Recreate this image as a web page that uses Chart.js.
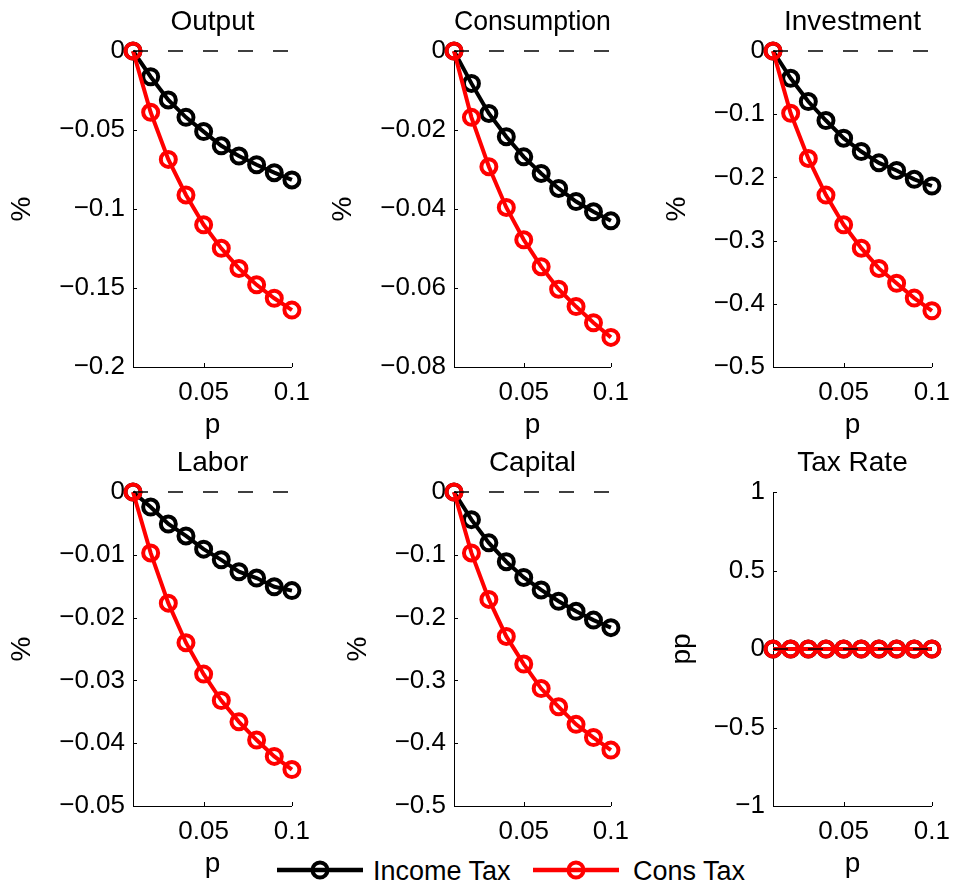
<!DOCTYPE html>
<html>
<head>
<meta charset="utf-8">
<script src="https://cdn.jsdelivr.net/npm/chart.js@4"></script>
<style>
  body { margin: 0; background: #fff; width: 960px; height: 890px; position: relative; overflow: hidden; }
  .panel { position: absolute; }
  #legend { position: absolute; left: 268px; top: 852px; width: 500px; height: 38px; background: #fff; z-index: 5;
            font-family: "Liberation Sans", Arial, sans-serif; font-size: 27px; color: #000; }
  #legend span { position: absolute; top: 3px; line-height: 32px; white-space: nowrap; }
  #legend svg { position: absolute; left: 0; top: 0; }
</style>
</head>
<body>
<div id="legend">
  <svg width="500" height="38">
    <line x1="9" y1="18" x2="95" y2="18" stroke="#000" stroke-width="4.5"/>
    <circle cx="52" cy="18" r="7.5" fill="none" stroke="#000" stroke-width="4"/>
    <line x1="265" y1="18" x2="351" y2="18" stroke="#f00" stroke-width="4.5"/>
    <circle cx="308" cy="18" r="7.5" fill="none" stroke="#f00" stroke-width="4"/>
  </svg>
  <span style="left:105px">Income Tax</span>
  <span style="left:365px">Cons Tax</span>
</div>
<script>
const p = [0.01, 0.02, 0.03, 0.04, 0.05, 0.06, 0.07, 0.08, 0.09, 0.1];
const xTicks = [0.05, 0.1];

const outputIncome = [0, -0.0163, -0.031, -0.042, -0.051, -0.060, -0.0665, -0.072, -0.077, -0.0816];
const outputCons   = [0, -0.0388, -0.0686, -0.0911, -0.110, -0.1249, -0.1376, -0.148, -0.1565, -0.164];
const consIncome   = [0, -0.0082, -0.0158, -0.0217, -0.0268, -0.031, -0.0348, -0.0381, -0.0407, -0.043];
const consCons     = [0, -0.0168, -0.0293, -0.0396, -0.0478, -0.0546, -0.0603, -0.0647, -0.0688, -0.0725];
const invIncome    = [0, -0.0432, -0.080, -0.110, -0.138, -0.159, -0.177, -0.189, -0.203, -0.2136];
const invCons      = [0, -0.0986, -0.170, -0.228, -0.275, -0.312, -0.344, -0.3676, -0.391, -0.411];
const laborIncome  = [0, -0.0024, -0.0051, -0.0070, -0.0091, -0.0108, -0.0127, -0.0137, -0.0151, -0.0157];
const laborCons    = [0, -0.0097, -0.0177, -0.024, -0.029, -0.0332, -0.0366, -0.0395, -0.0421, -0.0442];
const capIncome    = [0, -0.044, -0.081, -0.111, -0.136, -0.156, -0.174, -0.190, -0.204, -0.216];
const capCons      = [0, -0.097, -0.171, -0.230, -0.274, -0.313, -0.342, -0.370, -0.391, -0.411];
const taxIncome    = [0, 0, 0, 0, 0, 0, 0, 0, 0, 0];
const taxCons      = [0, 0, 0, 0, 0, 0, 0, 0, 0, 0];
const zeroLine     = [0, 0, 0, 0, 0, 0, 0, 0, 0, 0];

const panels = [
  { title: 'Output',      ylabel: '%',  income: outputIncome, cons: outputCons, min: -0.2,  max: 0, step: 0.05, row: 0, col: 0, labOff: 111 },
  { title: 'Consumption', ylabel: '%',  income: consIncome,   cons: consCons,   min: -0.08, max: 0, step: 0.02, row: 0, col: 1, labOff: 111 },
  { title: 'Investment',  ylabel: '%',  income: invIncome,    cons: invCons,    min: -0.5,  max: 0, step: 0.1,  row: 0, col: 2, labOff: 96 },
  { title: 'Labor',       ylabel: '%',  income: laborIncome,  cons: laborCons,  min: -0.05, max: 0, step: 0.01, row: 1, col: 0, labOff: 111 },
  { title: 'Capital',     ylabel: '%',  income: capIncome,    cons: capCons,    min: -0.5,  max: 0, step: 0.1,  row: 1, col: 1, labOff: 96 },
  { title: 'Tax Rate',    ylabel: 'pp', income: taxIncome,    cons: taxCons,    min: -1,    max: 1, step: 0.5,  row: 1, col: 2, labOff: 91 }
];

// page geometry
const axLeft = [133, 454, 773], axW = [165, 163, 165];
const rowTop = [0, 441], rowH = [450, 449], plotH = [316, 314];
const YAXW = 133, TOPH = 51, PADR = 22;
const FONT = '"Liberation Sans", Arial, sans-serif';
const TICK_PX = 26, LABEL_PX = 28, HALF_LH = LABEL_PX * 1.2 / 2;

const fmt = v => String(parseFloat(v.toFixed(6))).replace('-', '\u2212');
const toXY = ys => ys.map((y, i) => ({ x: p[i], y: y }));

// MATLAB-like inward tick marks
const inwardTicks = {
  id: 'inwardTicks',
  afterDraw(chart) {
    const { ctx, chartArea } = chart;
    const xs = chart.scales.x, ys = chart.scales.y;
    ctx.save();
    ctx.strokeStyle = '#000';
    ctx.lineWidth = 1;
    ctx.beginPath();
    xs.ticks.forEach(t => {
      const px = Math.round(xs.getPixelForValue(t.value)) + 0.5;
      ctx.moveTo(px, chartArea.bottom);
      ctx.lineTo(px, chartArea.bottom - 4);
    });
    ys.ticks.forEach(t => {
      const py = Math.round(ys.getPixelForValue(t.value)) + 0.5;
      ctx.moveTo(chartArea.left, py);
      ctx.lineTo(chartArea.left + 4, py);
    });
    ctx.stroke();
    ctx.restore();
  }
};

Chart.defaults.font.family = FONT;
Chart.defaults.color = '#000';

panels.forEach(pn => {
  const w = YAXW + axW[pn.col] + PADR, h = rowH[pn.row];
  const wrap = document.createElement('div');
  wrap.className = 'panel';
  wrap.style.left = (axLeft[pn.col] - YAXW) + 'px';
  wrap.style.top = rowTop[pn.row] + 'px';
  wrap.style.width = w + 'px';
  wrap.style.height = h + 'px';
  const cv = document.createElement('canvas');
  wrap.appendChild(cv);
  document.body.appendChild(wrap);
  const xAxisH = h - TOPH - plotH[pn.row];

  new Chart(cv, {
    type: 'line',
    data: {
      datasets: [
        { data: toXY(zeroLine), borderColor: '#000', borderWidth: 1.6, borderDash: [15, 20], pointRadius: 0, order: 0, clip: false },
        { label: 'Cons Tax', data: toXY(pn.cons), borderColor: '#ff0000', borderWidth: 4, pointRadius: 7.5, pointBorderWidth: 4,
          pointBackgroundColor: 'transparent', pointBorderColor: '#ff0000', order: 1, clip: false },
        { label: 'Income Tax', data: toXY(pn.income), borderColor: '#000', borderWidth: 4, pointRadius: 7.5, pointBorderWidth: 4,
          pointBackgroundColor: 'transparent', pointBorderColor: '#000', order: 2, clip: false }
      ]
    },
    options: {
      responsive: true,
      maintainAspectRatio: false,
      animation: false,
      layout: { padding: { left: 0, right: PADR, top: 0, bottom: 0 } },
      plugins: {
        legend: { display: false },
        tooltip: { enabled: false },
        title: {
          display: true, text: pn.title, fullSize: false,
          font: { size: LABEL_PX, weight: 'normal', lineHeight: 1.2 },
          padding: { top: 22 - HALF_LH, bottom: TOPH - 22 - HALF_LH }, color: '#000'
        }
      },
      scales: {
        x: {
          type: 'linear', min: 0.01, max: 0.1,
          afterBuildTicks: s => { s.ticks = xTicks.map(v => ({ value: v })); },
          afterFit: s => { s.height = xAxisH; },
          grid: { display: false, drawTicks: false },
          border: { display: true, color: '#000', width: 1 },
          ticks: { font: { size: TICK_PX }, padding: 10, maxRotation: 0, callback: v => fmt(v) },
          title: { display: true, text: 'p', font: { size: LABEL_PX, lineHeight: 1.2 },
                   padding: { top: 0, bottom: h - TOPH - plotH[pn.row] - 58 - HALF_LH } }
        },
        y: {
          min: pn.min, max: pn.max,
          afterFit: s => { s.width = YAXW; },
          grid: { display: false, drawTicks: false },
          border: { display: true, color: '#000', width: 1 },
          ticks: { stepSize: pn.step, font: { size: TICK_PX }, padding: 8, callback: v => fmt(v) },
          title: { display: true, text: pn.ylabel, font: { size: LABEL_PX, lineHeight: 1.2 },
                   padding: { top: YAXW - pn.labOff - HALF_LH, bottom: 0 } }
        }
      }
    },
    plugins: [inwardTicks]
  });
});
</script>
</body>
</html>
